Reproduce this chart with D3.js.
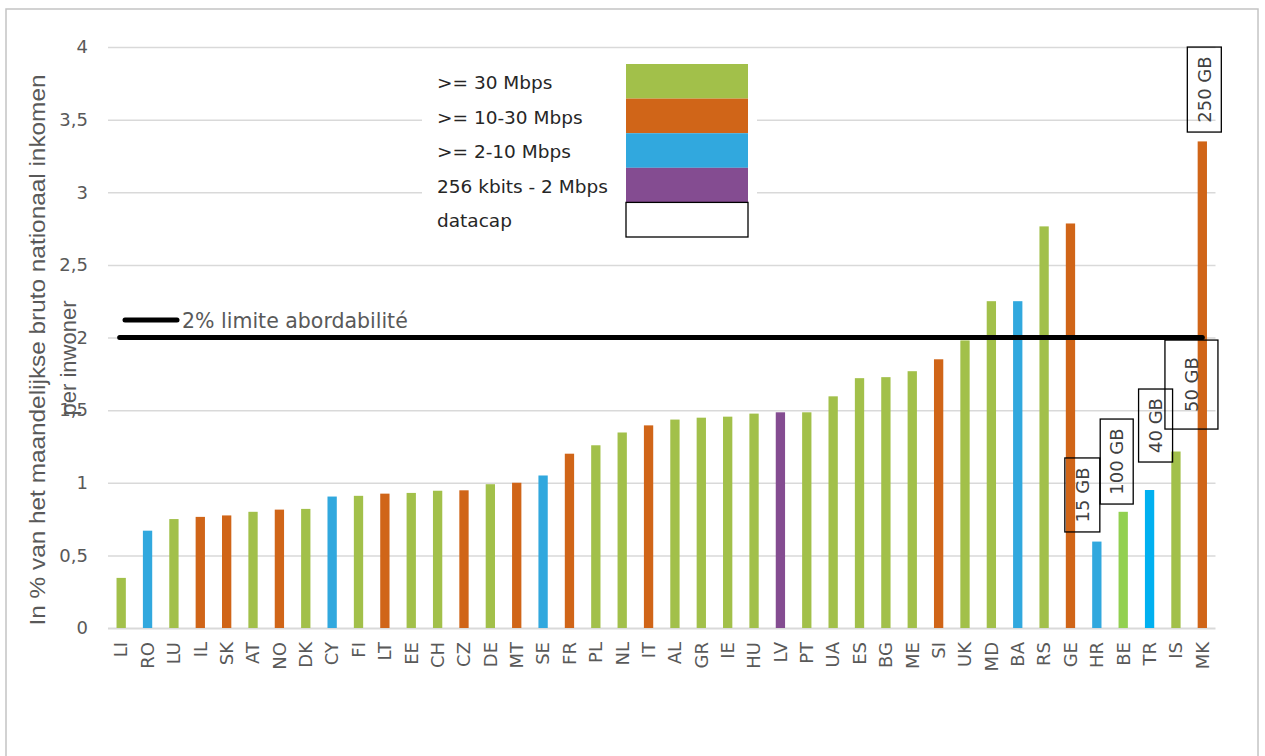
<!DOCTYPE html>
<html>
<head>
<meta charset="utf-8">
<script src="https://cdn.jsdelivr.net/npm/d3@7"></script>
<style>
  body { margin: 0; background: #fff; }
  svg { display: block; }
</style>
</head>
<body>
<script>
// countries, sorted as in the source chart
const countries = ['LI','RO','LU','IL','SK','AT','NO','DK','CY','FI','LT','EE','CH','CZ','DE','MT','SE','FR','PL','NL','IT',
  'AL','GR','IE','HU','LV','PT','UA','ES','BG','ME','SI','UK','MD','BA','RS','GE','HR','BE','TR','IS','MK'];

// price in % of monthly gross national income per inhabitant
const values = [0.345,0.67,0.75,0.765,0.775,0.80,0.815,0.82,0.905,0.91,0.925,0.93,0.945,0.948,0.99,1.0,1.05,1.2,1.258,1.346,1.395,
  1.435,1.448,1.455,1.476,1.485,1.485,1.595,1.72,1.727,1.768,1.85,1.98,2.25,2.25,2.765,2.785,0.595,0.8,0.95,1.215,3.35];

// speed class of each bar (the "b" variants are drawn in a slightly different shade in the source)
const speedClass = ['s30','s2','s30','s10','s10','s30','s10','s30','s2','s30','s10','s30','s30','s10','s30','s10','s2','s10','s30','s30','s10',
  's30','s30','s30','s30','s256','s30','s30','s30','s30','s30','s10','s30','s30','s2','s30','s10','s2','s30b','s2b','s30','s10'];

const legendLabels = ['>= 30 Mbps','>= 10-30 Mbps','>= 2-10 Mbps','256 kbits - 2 Mbps','datacap'];
const legendKeys = ['s30','s10','s2','s256','cap'];

const datacapCountries = ['HR','BE','TR','IS','MK'];
const datacapLabels = ['15 GB','100 GB','40 GB','50 GB','250 GB'];

const yTicks = [0,0.5,1,1.5,2,2.5,3,3.5,4];
const limitValue = 2;
const limitLabel = '2% limite abordabilité';
const yTitle = ['In % van het maandelijkse bruto nationaal inkomen','per inwoner'];

const data = countries.map((c, i) => ({country: c, value: values[i], speed: speedClass[i]}));

const width = 1265, height = 756;
const plot = {left: 108, right: 1215.5, top: 47, bottom: 628};

const color = d3.scaleOrdinal()
  .domain(['s30','s10','s2','s256','s30b','s2b','cap'])
  .range(['#a2c04a','#d06518','#31a8de','#844c91','#92d050','#00b0f0','#ffffff']);

const xScale = d3.scaleBand()
  .domain(countries)
  .range([plot.left, plot.right])
  .paddingInner(0.647)
  .paddingOuter(0.3235);

const yScale = d3.scaleLinear()
  .domain([0, 4])
  .range([plot.bottom, plot.top]);

const svg = d3.select('body').append('svg')
  .attr('width', width)
  .attr('height', height);

// chart frame
svg.append('rect')
  .attr('x', 6).attr('y', 9)
  .attr('width', 1252).attr('height', 760)
  .attr('fill', 'none')
  .attr('stroke', '#c4c4c4')
  .attr('stroke-width', 1.5);

// grid lines via the y axis
const yAxis = d3.axisLeft(yScale)
  .tickValues(yTicks)
  .tickSize(-(plot.right - plot.left))
  .tickPadding(20)
  .tickFormat(d => String(d).replace('.', ','));

const gy = svg.append('g')
  .attr('transform', `translate(${plot.left},0)`)
  .call(yAxis);
gy.select('.domain').remove();
gy.selectAll('.tick line')
  .attr('stroke', '#d9d9d9')
  .attr('stroke-width', d => d === 0 ? 2 : 1.5);
gy.selectAll('.tick text')
  .attr('fill', '#595959')
  .attr('font-family', 'DejaVu Sans, sans-serif')
  .attr('font-size', 18);

// legend background hides the grid behind it
svg.append('rect')
  .attr('x', 422).attr('y', 56)
  .attr('width', 335).attr('height', 188)
  .attr('fill', '#fff');

// bars
svg.append('g')
  .selectAll('rect')
  .data(data)
  .join('rect')
  .attr('x', d => xScale(d.country))
  .attr('y', d => yScale(d.value))
  .attr('width', xScale.bandwidth())
  .attr('height', d => yScale(0) - yScale(d.value))
  .attr('fill', d => color(d.speed));

// x axis labels
const xAxis = d3.axisBottom(xScale).tickSize(0);
const gx = svg.append('g')
  .attr('transform', `translate(0,${plot.bottom})`)
  .call(xAxis);
gx.select('.domain').remove();
gx.selectAll('.tick text')
  .attr('transform', 'rotate(-90)')
  .attr('text-anchor', 'end')
  .attr('x', -14)
  .attr('y', 0)
  .attr('dy', '0.35em')
  .attr('fill', '#595959')
  .attr('font-family', 'DejaVu Sans, sans-serif')
  .attr('font-size', 18);

// 2% affordability line
const firstMid = xScale(countries[0]) + xScale.bandwidth() / 2;
const lastMid = xScale(countries[countries.length - 1]) + xScale.bandwidth() / 2;
svg.append('line')
  .attr('x1', firstMid - 1.5)
  .attr('x2', lastMid)
  .attr('y1', yScale(limitValue))
  .attr('y2', yScale(limitValue))
  .attr('stroke', '#000')
  .attr('stroke-width', 5)
  .attr('stroke-linecap', 'round');

// its own little legend entry
svg.append('line')
  .attr('x1', 125).attr('x2', 177)
  .attr('y1', 320).attr('y2', 320)
  .attr('stroke', '#000')
  .attr('stroke-width', 5)
  .attr('stroke-linecap', 'round');
svg.append('text')
  .attr('x', 182).attr('y', 328)
  .attr('fill', '#595959')
  .attr('font-family', 'DejaVu Sans, sans-serif')
  .attr('font-size', 20.5)
  .text(limitLabel);

// legend
const legend = svg.append('g').attr('transform', 'translate(437,64)');
const rowH = 34.6;
legend.selectAll('rect')
  .data(legendKeys)
  .join('rect')
  .attr('x', 189)
  .attr('y', (d, i) => i * rowH)
  .attr('width', 122)
  .attr('height', rowH)
  .attr('fill', d => color(d))
  .attr('stroke', d => d === 'cap' ? '#000' : 'none')
  .attr('stroke-width', 1.3);
legend.selectAll('text')
  .data(legendLabels)
  .join('text')
  .attr('x', 0)
  .attr('y', (d, i) => i * rowH + 25)
  .attr('fill', '#262626')
  .attr('font-family', 'DejaVu Sans, sans-serif')
  .attr('font-size', 18.5)
  .text(d => d);

// datacap labels: hand placed in the source, so keep their offsets here
const capLayout = {
  'HR':  {dx: -14.5, y: 0.916, w: 35, h: 74},
  'BE':  {dx: -6.5,  y: 1.146, w: 33, h: 85},
  'TR':  {dx: 6,     y: 1.394, w: 34, h: 73},
  'IS':  {dx: 15.5,  y: 1.676, w: 53, h: 89},
  'MK':  {dx: 2,     y: 3.707, w: 34, h: 85}
};
const caps = svg.append('g')
  .selectAll('g')
  .data(datacapCountries.map((c, i) => ({country: c, label: datacapLabels[i]})))
  .join('g')
  .attr('transform', d => {
    const l = capLayout[d.country];
    return `translate(${xScale(d.country) + xScale.bandwidth() / 2 + l.dx},${yScale(l.y)})`;
  });
caps.append('rect')
  .attr('x', d => -capLayout[d.country].w / 2)
  .attr('y', d => -capLayout[d.country].h / 2)
  .attr('width', d => capLayout[d.country].w)
  .attr('height', d => capLayout[d.country].h)
  .attr('fill', 'none')
  .attr('stroke', '#000')
  .attr('stroke-width', 1.3);
caps.append('text')
  .attr('transform', 'rotate(-90)')
  .attr('text-anchor', 'middle')
  .attr('dy', '0.35em')
  .attr('fill', '#404040')
  .attr('font-family', 'DejaVu Sans, sans-serif')
  .attr('font-size', 18)
  .text(d => d.label);

// y axis title (second line overlaps the tick labels, as in the source)
const title = svg.append('g').attr('fill', '#595959')
  .attr('font-family', 'Liberation Sans Narrow, Liberation Sans, sans-serif');
title.append('text')
  .attr('transform', 'translate(45,350) rotate(-90)')
  .attr('text-anchor', 'middle')
  .attr('font-size', 22)
  .attr('textLength', 551)
  .attr('lengthAdjust', 'spacingAndGlyphs')
  .text(yTitle[0]);
title.append('text')
  .attr('transform', 'translate(76,358) rotate(-90)')
  .attr('text-anchor', 'middle')
  .attr('font-size', 22)
  .text(yTitle[1]);
</script>
</body>
</html>
